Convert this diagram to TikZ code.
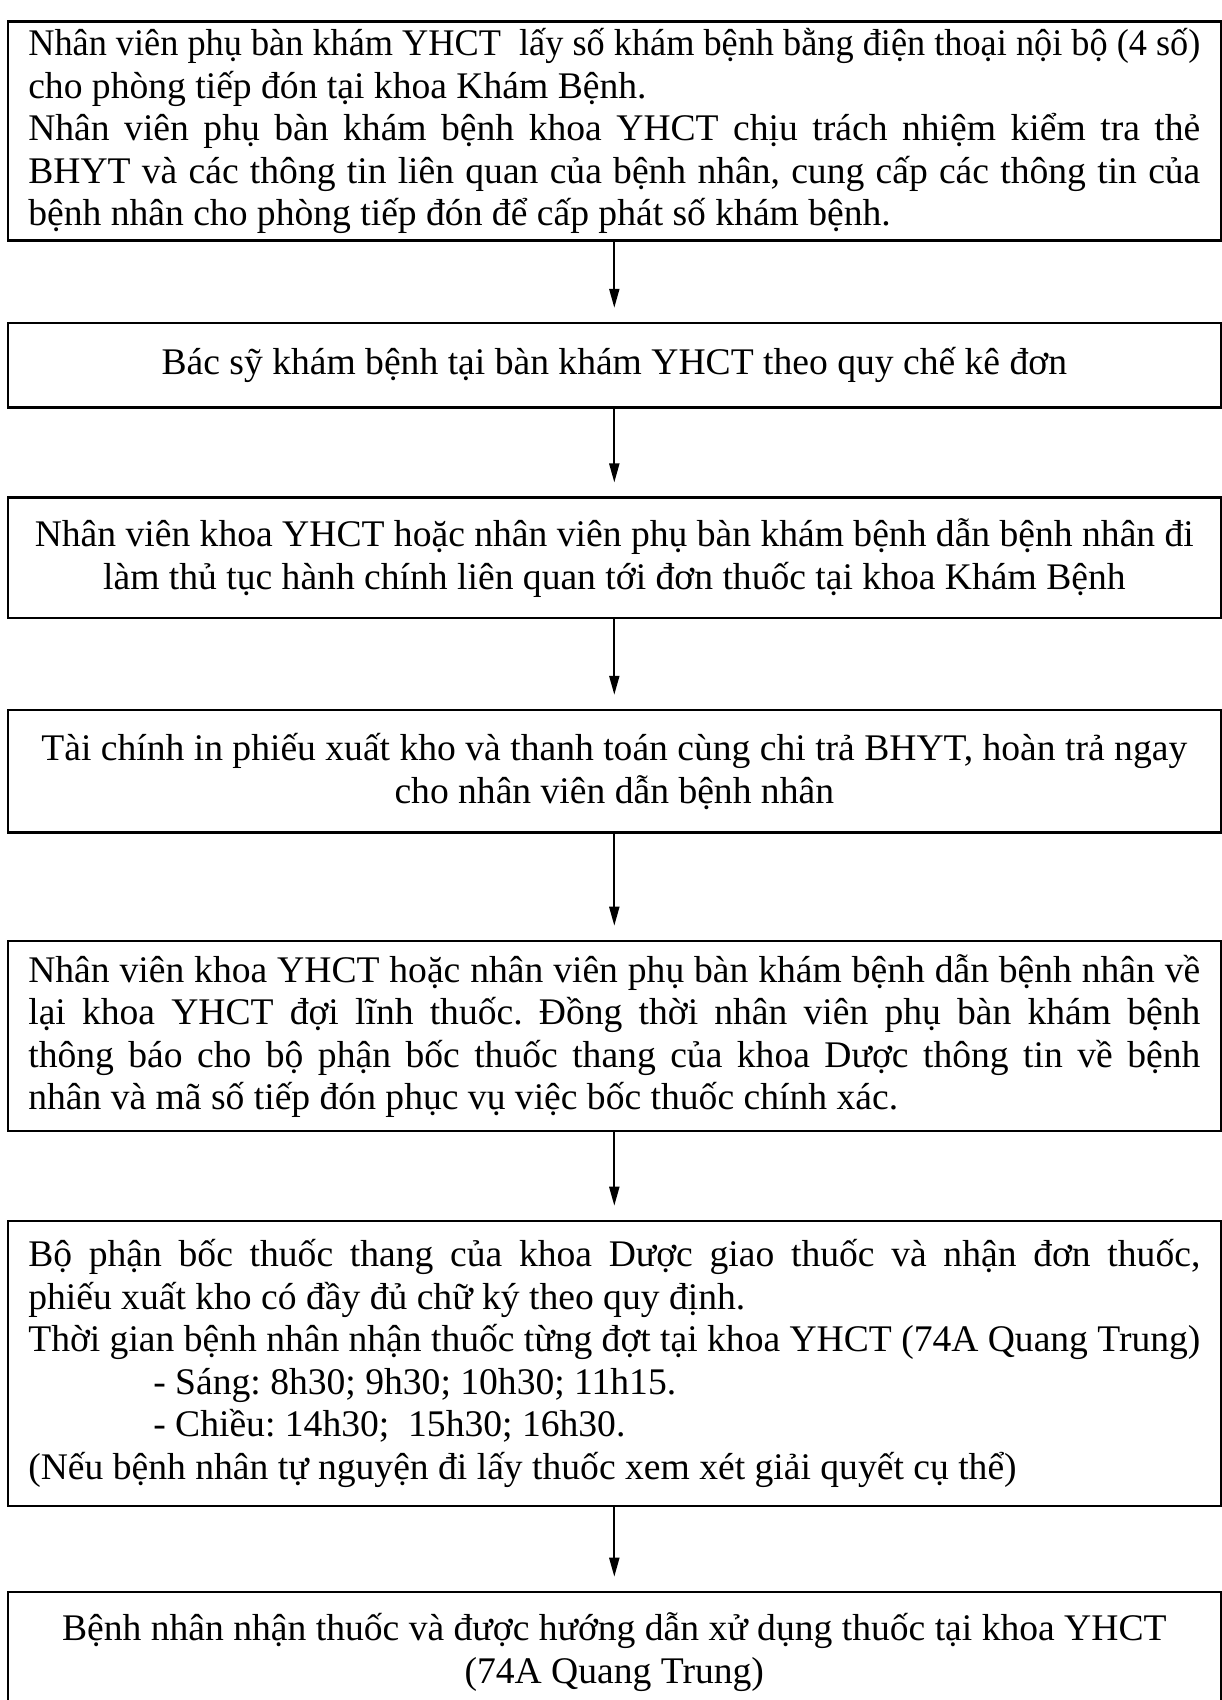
\documentclass[tikz,border=0pt]{standalone}
\usepackage{fontspec}
\setmainfont{Liberation Serif}
\usetikzlibrary{arrows.meta}
\newlength{\fullw}\setlength{\fullw}{1172pt}
\newsavebox{\jlbox}
\newcommand{\jl}[1]{{\spaceskip=0pt\xspaceskip=0pt\sbox{\jlbox}{#1}%
  \ifdim\wd\jlbox>\fullw\resizebox{\fullw}{\height}{\usebox{\jlbox}}%
  \else\makebox[\fullw][s]{#1}\fi}}
\begin{document}
\begin{tikzpicture}[x=1pt,y=-1pt,
  stepbox/.style={draw=black, line width=2.6pt, minimum width=1213pt, text width=1172pt,
    inner xsep=0pt, inner ysep=0pt, font=\fontsize{37.6}{42.5}\selectfont\frenchspacing},
  conn/.style={line width=2pt, -{Triangle[length=19pt,width=10pt]}, shorten >=14pt}]
\useasboundingbox (0,0) rectangle (1222,1700);
\clip (0,0) rectangle (1222,1700);
\fill[white] (0,0) rectangle (1222,1700);

\node[stepbox, align=flush left, minimum height=219pt] (b1) at (614.3,131.2) {%
\jl{Nhân viên phụ bàn khám YHCT\ \ lấy số khám bệnh bằng điện thoại nội bộ (4 số)}\\
cho phòng tiếp đón tại khoa Khám Bệnh.\\
\jl{Nhân viên phụ bàn khám bệnh khoa YHCT chịu trách nhiệm kiểm tra thẻ}\\
\jl{BHYT và các thông tin liên quan của bệnh nhân, cung cấp các thông tin của}\\
bệnh nhân cho phòng tiếp đón để cấp phát số khám bệnh.};

\node[stepbox, align=flush center, minimum height=84.7pt] (b2) at (614.3,365.4)
{Bác sỹ khám bệnh tại bàn khám YHCT theo quy chế kê đơn};

\node[stepbox, align=flush center, minimum height=120.3pt] (b3) at (614.3,557.9)
{Nhân viên khoa YHCT hoặc nhân viên phụ bàn khám bệnh dẫn bệnh nhân đi\\
làm thủ tục hành chính liên quan tới đơn thuốc tại khoa Khám Bệnh};

\node[stepbox, align=flush center, minimum height=122.7pt] (b4) at (614.3,771.4)
{Tài chính in phiếu xuất kho và thanh toán cùng chi trả BHYT, hoàn trả ngay\\
cho nhân viên dẫn bệnh nhân};

\node[stepbox, align=flush left, minimum height=190pt] (b5) at (614.3,1036) {%
\jl{Nhân viên khoa YHCT hoặc nhân viên phụ bàn khám bệnh dẫn bệnh nhân về}\\
\jl{lại khoa YHCT đợi lĩnh thuốc. Đồng thời nhân viên phụ bàn khám bệnh}\\
\jl{thông báo cho bộ phận bốc thuốc thang của khoa Dược thông tin về bệnh}\\
nhân và mã số tiếp đón phục vụ việc bốc thuốc chính xác.};

\node[stepbox, align=flush left, minimum height=285pt] (b6) at (614.3,1363.5) {%
\jl{Bộ phận bốc thuốc thang của khoa Dược giao thuốc và nhận đơn thuốc,}\\
phiếu xuất kho có đầy đủ chữ ký theo quy định.\\
\jl{Thời gian bệnh nhân nhận thuốc từng đợt tại khoa YHCT (74A Quang Trung)}\\
\hspace*{125pt}- Sáng: 8h30; 9h30; 10h30; 11h15.\\
\hspace*{125pt}- Chiều: 14h30;\ \ 15h30; 16h30.\\
(Nếu bệnh nhân tự nguyện đi lấy thuốc xem xét giải quyết cụ thể)};

\node[stepbox, align=flush center, minimum height=120pt] (b7) at (614.3,1652)
{Bệnh nhân nhận thuốc và được hướng dẫn xử dụng thuốc tại khoa YHCT\\
(74A Quang Trung)};

\draw[conn] (b1.south) -- (b2.north);
\draw[conn] (b2.south) -- (b3.north);
\draw[conn] (b3.south) -- (b4.north);
\draw[conn] (b4.south) -- (b5.north);
\draw[conn] (b5.south) -- (b6.north);
\draw[conn] (b6.south) -- (b7.north);
\end{tikzpicture}
\end{document}
